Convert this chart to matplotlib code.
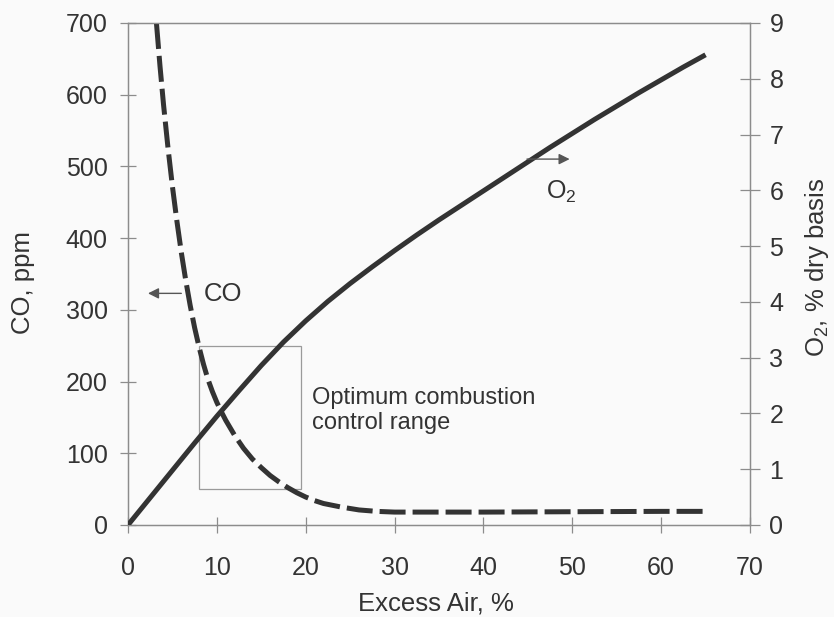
import matplotlib
matplotlib.use("Agg")
import matplotlib.pyplot as plt
from matplotlib.patches import Rectangle

plt.rcParams["font.family"] = ["Liberation Sans", "DejaVu Sans"]
plt.rcParams["mathtext.default"] = "regular"

# Excess air (%) and flue-gas O2 (% dry basis)
excess_air_o2 = [0, 2.5, 5, 7.5, 10, 12.5, 15, 17.5, 20, 22.5, 25, 27.5, 30,
                 32.5, 35, 37.5, 40, 42.5, 45, 47.5, 50, 52.5, 55, 57.5, 60,
                 62.5, 65]
o2_pct = [0, 0.49, 0.98, 1.47, 1.95, 2.41, 2.86, 3.28, 3.66, 4.01, 4.33,
          4.63, 4.92, 5.2, 5.47, 5.73, 5.99, 6.25, 6.51, 6.77, 7.02, 7.27,
          7.51, 7.75, 7.98, 8.21, 8.43]

# Excess air (%) and CO (ppm)
excess_air_co = [3.2, 3.6, 4.0, 4.5, 5.0, 5.5, 6.0, 6.5, 7.0, 7.5, 8.0, 8.5,
                 9.0, 9.5, 10.0, 10.5, 11.0, 12.0, 13.0, 14.0, 15.0, 16.0,
                 17.0, 18.0, 19.0, 20.0, 21.0, 22.0, 24.0, 26.0, 28.0, 30.0,
                 40.0, 50.0, 60.0, 65.0]
co_ppm = [700, 640, 586, 526, 472, 424, 380, 341, 306, 275, 248, 224,
          203, 186, 171, 158, 146, 125, 107, 92, 80, 69,
          60, 52, 45, 39, 34, 30, 25, 21, 19, 18,
          18, 18.5, 19, 19]

# Optimum combustion control range (excess air %, CO ppm)
range_x = [8.0, 19.5]
range_co = [50, 250]

x_ticks = [0, 10, 20, 30, 40, 50, 60, 70]
co_ticks = [0, 100, 200, 300, 400, 500, 600, 700]
o2_ticks = [0, 1, 2, 3, 4, 5, 6, 7, 8, 9]

ink = "#333333"
frame = "#8c8c8c"
W, H = 834, 617

fig = plt.figure(figsize=(W / 100, H / 100), dpi=100, facecolor="#fafafa")
ax = fig.add_axes([128 / W, 1 - 525 / H, 622 / W, 502 / H])
ax.set_facecolor("none")
ax2 = ax.twinx()

ax.set_xlim(0, 70)
ax.set_ylim(0, 700)
ax2.set_ylim(0, 9)

for a in (ax, ax2):
    for s in a.spines.values():
        s.set_color(frame)
        s.set_linewidth(0.9)

ax.set_xticks(x_ticks)
ax.set_yticks(co_ticks)
ax2.set_yticks(o2_ticks)

ax.tick_params(axis="x", direction="inout", length=11, width=0.9, color=frame,
               labelsize=18, labelcolor=ink, pad=17)
ax.tick_params(axis="y", direction="inout", length=11.5, width=0.9, color=frame,
               labelsize=18, labelcolor=ink, pad=9)
ax2.tick_params(axis="y", direction="inout", length=14, width=0.9, color=frame,
                labelsize=18, labelcolor=ink, pad=7)

# Curves
ax.plot(excess_air_co, co_ppm, color=ink, lw=3.6, dashes=(5.2, 1.4),
        solid_capstyle="butt", zorder=3)
ax2.plot(excess_air_o2, o2_pct, color=ink, lw=3.6, solid_capstyle="butt",
         solid_joinstyle="round", zorder=3)

# Control range box
ax.add_patch(Rectangle((range_x[0], range_co[0]), range_x[1] - range_x[0],
                       range_co[1] - range_co[0], fill=False,
                       edgecolor="#9a9a9a", lw=0.9, zorder=2))
ax.text(20.7, 192, "Optimum combustion\ncontrol range", fontsize=17,
        color=ink, ha="left", va="top", linespacing=1.15)

# Curve labels with arrows pointing to their axes
ax.annotate("", xy=(2.25, 323), xytext=(6.0, 323),
            arrowprops=dict(arrowstyle="-|>", color="#555555", lw=1.0,
                            mutation_scale=16, shrinkA=0, shrinkB=0))
ax.text(10.7, 322, "CO", fontsize=18.5, color=ink, ha="center", va="center")

ax2.annotate("", xy=(49.7, 6.56), xytext=(44.9, 6.56),
             arrowprops=dict(arrowstyle="-|>", color="#555555", lw=1.0,
                             mutation_scale=16, shrinkA=0, shrinkB=0))
ax2.text(48.8, 5.97, "$O_2$", fontsize=18, color=ink, ha="center", va="center")

# Axis titles
ax.set_xlabel("Excess Air, %", fontsize=18.5, color=ink, va="center")
ax.xaxis.set_label_coords(0.495, -0.157)
ax.set_ylabel("CO, ppm", fontsize=18.5, color=ink, va="center", ha="center")
ax.yaxis.set_label_coords(-0.1688, 0.484)
ax2.set_ylabel("$O_2$, % dry basis", fontsize=18.5, color=ink,
               va="center", ha="center", rotation=90)
ax2.yaxis.set_label_coords(1.1077, 0.514)

fig.savefig("out.png", dpi=100, facecolor=fig.get_facecolor())
